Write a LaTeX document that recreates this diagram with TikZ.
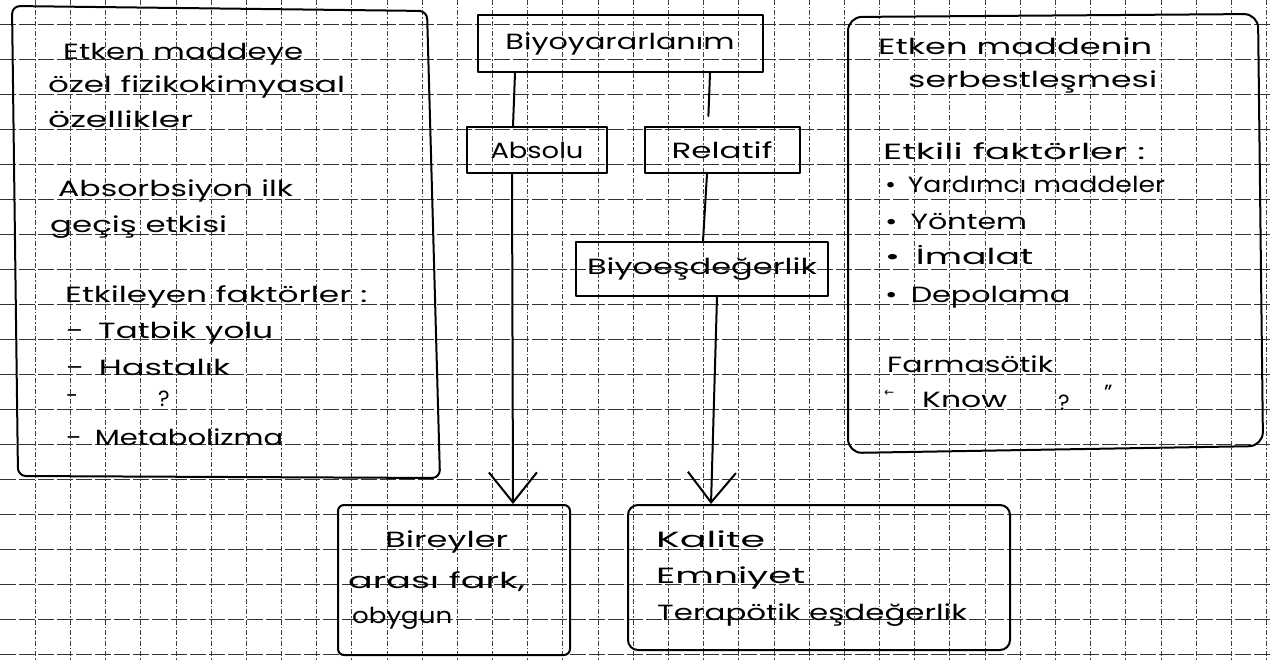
\documentclass[tikz,border=0pt]{standalone}
\usepackage{fontspec}
\usepackage{graphicx}
\setmainfont{Poppins}
\newfontfamily\symf{DejaVu Sans}
\usetikzlibrary{arrows.meta}
\newcommand{\hw}[2]{\resizebox{#1}{\height}{#2}}
\tikzset{
  pen/.style={line width=2pt, black, line cap=round, line join=round},
  vgrid/.style={line width=0.8pt, black!75, dash pattern=on 5pt off 2pt on 1.5pt off 2pt},
  hgrid/.style={line width=0.9pt, black!80, dash pattern=on 16pt off 3pt},
  txt/.style={anchor=base west, inner sep=0pt, font=\fontsize{22}{26}\selectfont},
  boxn/.style={draw, pen, inner sep=0pt, font=\fontsize{22}{26}\selectfont},
  vtip/.style={-{Straight Barb[length=30pt,width=48pt,line width=2pt]}},
}
\begin{document}
\begin{tikzpicture}[x=1pt,y=-1pt]
\useasboundingbox (0,0) rectangle (1273,660);
\fill[white] (0,0) rectangle (1273,660);
% grid paper
\foreach \k in {1,...,36} \draw[vgrid] ({35.18*\k},0) -- ({35.18*\k},660);
\foreach \k in {0,...,18} \draw[hgrid] (0,{24+35*\k}) -- (1273,{24+35*\k});
% big side boxes
\draw[pen, rounded corners=8pt] (12,6) -- (427,11) -- (440,478) -- (18,476) -- cycle;
\draw[pen, rounded corners=14pt] (848,453) -- (848,17) -- (1258,14) -- (1263,446) -- cycle;
% left box text
\node[txt] (l1) at (63,60) {\hw{240pt}{Etken maddeye}};
\node[txt] (l2) at (48,93) {\hw{297pt}{özel fizikokimyasal}};
\node[txt] (l3) at (48,128) {\hw{145pt}{özellikler}};
\node[txt] (l4) at (58,197) {\hw{235pt}{Absorbsiyon ilk}};
\node[txt] (l5) at (50,233) {\hw{177pt}{geçiş etkisi}};
\node[txt] (l6) at (65,302) {\hw{302pt}{Etkileyen faktörler :}};
\node[txt] (l7) at (66,338) {\hw{207pt}{-\, Tatbik yolu}};
\node[txt] (l8) at (66,375) {\hw{164pt}{-\, Hastalık}};
\node[txt] (l9a) at (66,403) {-};
\node[txt] (l9b) at (158,406) {?};
\node[txt] (l10) at (66,445) {\hw{217pt}{-\, Metabolizma}};
% right box text
\node[txt] (r1) at (878,55) {\hw{274pt}{Etken maddenin}};
\node[txt] (r2) at (908,88) {\hw{249pt}{serbestleşmesi}};
\node[txt] (r3) at (883,160) {\hw{262pt}{Etkili faktörler :}};
\node[txt] (r4) at (885,193) {\hw{280pt}{•\, Yardımcı maddeler}};
\node[txt] (r5) at (885,230) {\hw{142pt}{•\, Yöntem}};
\node[txt] (r6) at (885,265) {\hw{148pt}{•\, İmalat}};
\node[txt] (r7) at (885,302) {\hw{185pt}{•\, Depolama}};
\node[txt] (r8) at (887,372) {\hw{166pt}{Farmasötik}};
\node[txt, font=\symf\fontsize{12}{14}\selectfont] (r9) at (884,396) {←};
\node[txt] (r10) at (922,407) {\hw{85pt}{Know}};
\node[txt] (r11) at (1058,410) {?};
\node[txt] (r12) at (1104,400) {”};
% centre tree
\node[boxn, minimum width=285pt, minimum height=57pt] (bio) at (620,43.5) {\hw{229pt}{Biyoyararlanım}};
\node[boxn, minimum width=140pt, minimum height=46pt] (abs) at (537,150) {\hw{93pt}{Absolu}};
\node[boxn, minimum width=155pt, minimum height=46pt] (rel) at (722,150) {\hw{101pt}{Relatif}};
\node[boxn, minimum width=252pt, minimum height=54pt] (beq) at (702,269) {\hw{230pt}{Biyoeşdeğerlik}};
\node[boxn, rounded corners=6pt, minimum width=232pt, minimum height=150pt] (bir) at (454,580) {};
\node[boxn, rounded corners=10pt, minimum width=382pt, minimum height=145pt] (kal) at (819,577.5) {};
\draw[pen] (bio.south -| 515,0) -- (abs.north -| 513,0);
\draw[pen, shorten >=10pt] (bio.south -| 710,0) -- (rel.north -| 708,0);
\draw[pen, vtip] (abs.south -| 512,0) -- (bir.north -| 513,0);
\draw[pen] (rel.south -| 707,0) -- (beq.north -| 703,0);
\draw[pen, vtip] (beq.south -| 717,0) -- (kal.north -| 711,0);
% bottom box text
\node[txt] (b1) at (385,547) {\hw{123pt}{Bireyler}};
\node[txt] (b2) at (348,588) {\hw{177pt}{arası fark,}};
\node[txt] (b3) at (352,623) {\hw{100pt}{obygun}};
\node[txt] (k1) at (656,547) {\hw{109pt}{Kalite}};
\node[txt] (k2) at (656,583) {\hw{149pt}{Emniyet}};
\node[txt] (k3) at (657,620) {\hw{310pt}{Terapötik eşdeğerlik}};
\end{tikzpicture}
\end{document}
